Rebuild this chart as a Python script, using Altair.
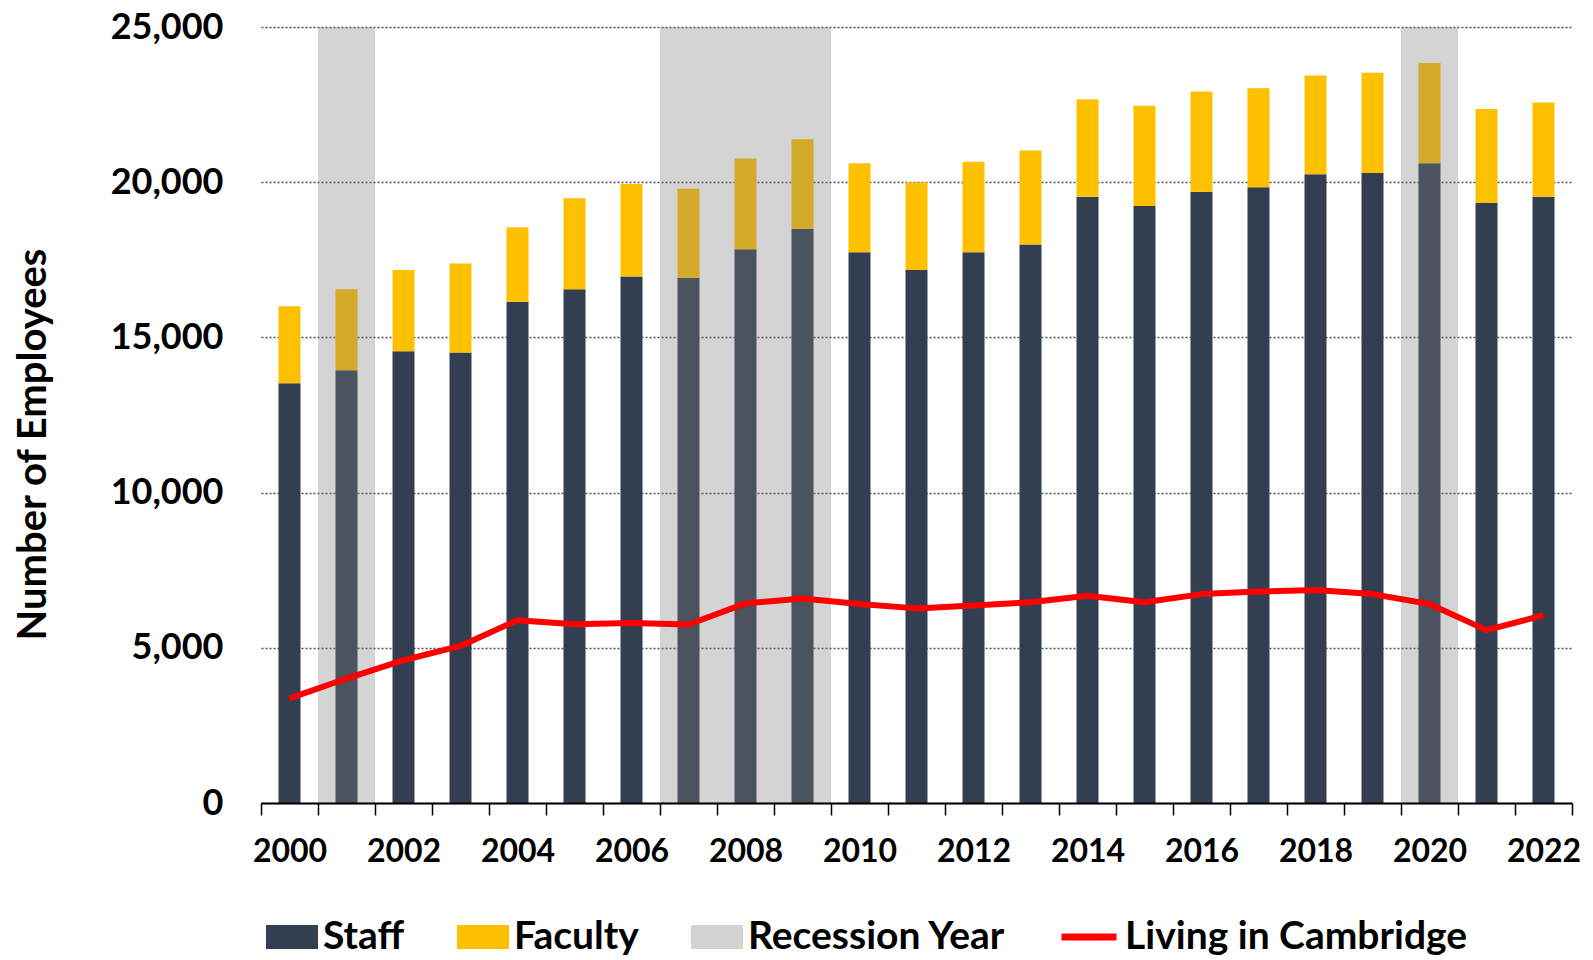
import altair as alt
import pandas as pd

# ---------------- data ----------------
years = [str(y) for y in range(2000, 2023)]
staff = [13520, 13940, 14550, 14510, 16150, 16550, 16960, 16920, 17840, 18500,
         17740, 17170, 17740, 17990, 19530, 19230, 19690, 19840, 20260, 20300,
         20610, 19330, 19530]
faculty = [2480, 2610, 2620, 2870, 2400, 2930, 2980, 2870, 2920, 2880,
           2870, 2820, 2920, 3030, 3140, 3230, 3230, 3190, 3180, 3230,
           3230, 3030, 3040]
cambridge = [3370, 4010, 4600, 5060, 5890, 5760, 5800, 5750, 6430, 6590,
             6410, 6270, 6360, 6470, 6680, 6470, 6730, 6810, 6860, 6730,
             6410, 5570, 6050]
recession_years = ["2001", "2007", "2008", "2009", "2020"]
bar_series = ["Staff", "Faculty", "Recession Year"]
bar_colors = ["#333F50", "#FFC000", "#D3D3D3"]
line_series = ["Living in Cambridge"]
line_colors = ["#FF0000"]
y_ticks = [0, 5000, 10000, 15000, 20000, 25000]

# ---------------- tables ----------------
n = len(years)
bars_df = pd.DataFrame({
    "year": years * 2,
    "series": ["Staff"] * n + ["Faculty"] * n,
    "base": [0] * n + staff,
    "top": staff + [s + f for s, f in zip(staff, faculty)],
})
line_df = pd.DataFrame({"year": years, "value": cambridge,
                        "series": line_series * n})
rec_df = pd.DataFrame({"year": recession_years,
                       "lo": [y_ticks[0]] * len(recession_years),
                       "hi": [y_ticks[-1]] * len(recession_years)})

FONT = "Lato"

x_axis = alt.Axis(
    title=None, labelExpr="parseInt(datum.value) % 2 == 0 ? datum.value : ''",
    tickBand="extent", labelFont=FONT, labelFontSize=32, labelFontWeight="bold",
    labelColor="black", labelAngle=0, labelPadding=21, tickSize=12,
    tickColor="black", tickWidth=1.5, domainColor="black", domainWidth=2,
    grid=False, zindex=1,
)
y_axis = alt.Axis(
    values=y_ticks, format=",.0f", title="Number of Employees",
    titleFont=FONT, titleFontSize=40, titleFontWeight="bold", titleColor="black",
    titleAngle=270, titleX=-228, titleY=417, titleAlign="center",
    titleBaseline="middle",
    grid=True, gridDash=[2, 2], gridColor="#505050", gridWidth=1.5,
    domain=False, ticks=False, tickSize=0, labelPadding=38,
    labelFont=FONT, labelFontSize=36, labelFontWeight="bold", labelColor="black",
)

x = alt.X("year:N", sort=years,
          scale=alt.Scale(domain=years, paddingInner=0, paddingOuter=0),
          axis=x_axis)
y_scale = alt.Scale(domain=[y_ticks[0], y_ticks[-1]], nice=False)

legend_common = dict(
    orient="none", direction="horizontal", title=None,
    labelFont=FONT, labelFontSize=39, labelFontWeight="bold",
    labelColor="black", labelLimit=600, labelOffset=5, padding=0,
    symbolOpacity=1,
)

bars = alt.Chart(bars_df).mark_bar(size=22).encode(
    x=x,
    y=alt.Y("top:Q", scale=y_scale, axis=y_axis),
    y2="base:Q",
    color=alt.Color(
        "series:N",
        scale=alt.Scale(domain=bar_series, range=bar_colors),
        legend=alt.Legend(
            legendX=5, legendY=884, columnPadding=52,
            symbolType="M-1,-0.46L1,-0.46L1,0.46L-1,0.46Z",
            symbolSize=2704, symbolStrokeWidth=0,
            **legend_common,
        ),
    ),
)

shade = alt.Chart(rec_df).mark_bar(color="#7B7B7B", opacity=0.33).encode(
    x=x,
    y=alt.Y("hi:Q", scale=y_scale, axis=y_axis),
    y2="lo:Q",
)

line = alt.Chart(line_df).mark_line(strokeWidth=6, strokeJoin="round").encode(
    x=x,
    y=alt.Y("value:Q", scale=y_scale, axis=y_axis),
    stroke=alt.Stroke(
        "series:N",
        scale=alt.Scale(domain=line_series, range=line_colors),
        legend=alt.Legend(
            legendX=797, legendY=879, symbolType="stroke",
            symbolSize=3025, symbolStrokeWidth=7,
            **legend_common,
        ),
    ),
)

chart = alt.layer(bars, shade, line).resolve_scale(
    color="independent", stroke="independent"
).properties(
    width=1311, height=776,
    padding={"left": 253, "top": 19, "right": 10, "bottom": 157},
    autosize=alt.AutoSizeParams(type="none"),
    background="white",
).configure_view(stroke=None)

chart.save("out.html", embed_options={"renderer": "svg", "actions": False})
